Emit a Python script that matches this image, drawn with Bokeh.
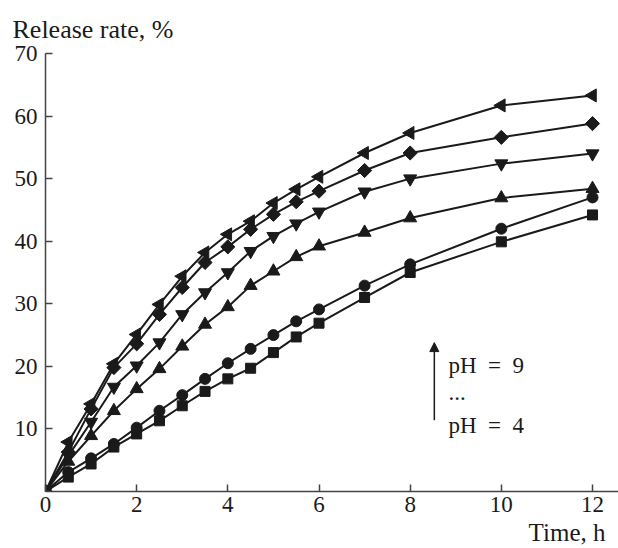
import math
from bokeh.plotting import figure
from bokeh.models import Range1d, FixedTicker, Label, Arrow, NormalHead, Title
from bokeh.embed import file_html
from bokeh.resources import INLINE

time_h = [0, 0.5, 1, 1.5, 2, 2.5, 3, 3.5, 4, 4.5, 5, 5.5, 6, 7, 8, 10, 12]
ph9 = [0, 7.9, 14.0, 20.4, 25.1, 29.9, 34.4, 38.2, 41.1, 43.2, 46.1, 48.3, 50.3, 54.1, 57.3, 61.7, 63.3]
ph8 = [0, 6.3, 13.2, 19.8, 23.6, 28.3, 32.6, 36.6, 39.1, 41.9, 44.3, 46.3, 48.0, 51.3, 54.1, 56.6, 58.8]
ph7 = [0, 5.7, 11.1, 16.7, 20.1, 23.8, 28.3, 31.8, 35.0, 38.4, 40.8, 42.8, 44.7, 47.9, 50.0, 52.4, 54.0]
ph6 = [0, 4.8, 8.9, 12.9, 16.4, 19.6, 23.2, 26.7, 29.5, 32.9, 35.2, 37.5, 39.2, 41.4, 43.7, 46.9, 48.4]
ph5 = [0, 3.1, 5.3, 7.6, 10.2, 12.9, 15.4, 18.0, 20.5, 22.8, 25.0, 27.2, 29.1, 32.9, 36.3, 42.0, 47.0]
ph4 = [0, 2.3, 4.4, 7.1, 9.2, 11.3, 13.7, 16.0, 18.0, 19.7, 22.2, 24.7, 26.9, 31.0, 35.0, 39.9, 44.2]

x_ticks = [0, 2, 4, 6, 8, 10, 12]
y_ticks = [10, 20, 30, 40, 50, 60, 70]

FONT = "Liberation Serif"
FS = "23px"
INK = "#1a1a1a"
AXC = "#444444"

p = figure(width=618, height=548, output_backend="svg", toolbar_location=None,
           x_range=Range1d(0, 12.57), y_range=Range1d(0, 70),
           min_border_left=45, min_border_right=0, min_border_top=53, min_border_bottom=57)
p.outline_line_color = None
p.xgrid.visible = False
p.ygrid.visible = False

for ax, ticks in ((p.xaxis[0], x_ticks), (p.yaxis[0], y_ticks)):
    ax.ticker = FixedTicker(ticks=ticks)
    ax.minor_tick_line_color = None
    ax.major_tick_in = 7
    ax.major_tick_out = 0
    ax.axis_line_color = AXC
    ax.major_tick_line_color = AXC
    ax.axis_line_width = 1.5
    ax.major_tick_line_width = 1.5
    ax.major_label_text_font = FONT
    ax.major_label_text_font_size = FS
    ax.major_label_text_color = INK
p.xaxis.major_label_standoff = 5
p.yaxis.major_label_standoff = 8

series = [
    (ph9, "triangle", math.pi / 2, 13),
    (ph8, "square", math.pi / 4, 10),
    (ph7, "inverted_triangle", 0, 13),
    (ph6, "triangle", 0, 13),
    (ph5, "circle", 0, 11),
    (ph4, "square", 0, 10),
]
for ys, marker, ang, size in series:
    p.line(time_h, ys, line_color=INK, line_width=2)
    p.scatter(time_h, ys, marker=marker, angle=ang, size=size,
              fill_color=INK, line_color=INK)

p.title.text = "Release rate, %"
p.title.align = "left"
p.title.offset = -33
p.title.standoff = 19
p.title.text_font = FONT
p.title.text_font_size = "26px"
p.title.text_font_style = "normal"
p.title.text_color = INK

p.add_layout(Title(text="Time, h", align="right", offset=13, standoff=4,
                   text_font=FONT, text_font_size="25px", text_font_style="normal",
                   text_color=INK), "below")

p.add_layout(Arrow(end=NormalHead(size=9, fill_color=INK, line_color=INK),
                   x_start=8.53, y_start=11.4, x_end=8.53, y_end=23.8,
                   line_color=INK, line_width=1.5))
for txt, yy in (("pH\u2002=\u20029", 20.1), ("...", 15.9), ("pH\u2002=\u20024", 10.5)):
    p.add_layout(Label(x=8.84, y=yy, text=txt, text_font=FONT, text_font_size=FS,
                       text_color=INK, text_baseline="alphabetic"))

open("out.html", "w").write(file_html(p, INLINE))
